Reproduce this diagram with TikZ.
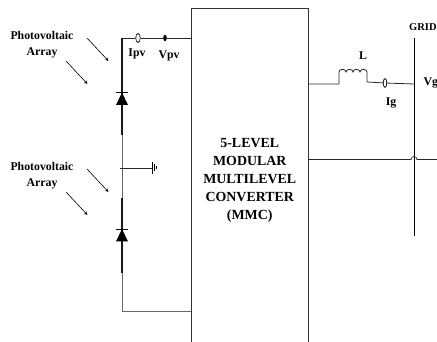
\documentclass[tikz,border=0pt]{standalone}
\usepackage{fontspec}
\setmainfont{Liberation Serif}
\usetikzlibrary{shapes.geometric,arrows.meta}
\tikzset{
	lbl/.style={font=\bfseries\fontsize{11.8}{16}\selectfont,inner sep=0pt,align=center},
	wire/.style={line width=0.8pt,black!85},
	bus/.style={line width=1pt,black!60},
	busdark/.style={line width=1.3pt,black!90},
	sunray/.style={line width=0.6pt,-{Stealth[length=3.5pt,width=3pt]}},
	sensor/.style={draw,ellipse,fill=white,inner sep=0pt,line width=0.7pt,minimum width=4.5pt,minimum height=9pt},
}
\begin{document}
\begin{tikzpicture}[x=1pt,y=-1pt]
		\clip (0,0) rectangle (437,342);
		\fill[white] (0,0) rectangle (437,342);

		\node[draw,line width=0.9pt,black!80,minimum width=116.5pt,minimum height=334pt,inner sep=0pt] (mmc) at (249.75,175) {};
		\node[lbl,font=\bfseries\fontsize{13.9}{18}\selectfont,text=black] (mmctext) at (249.75,180) {5-LEVEL\\MODULAR\\MULTILEVEL\\CONVERTER\\(MMC)};

		\coordinate (bustop) at (122,38);
		\coordinate (busbot) at (122,311);
		\coordinate (busmid) at (122,168);
		\coordinate (mmctop) at (mmc.west |- bustop);
		\coordinate (mmcbot) at (mmc.west |- busbot);

		\draw[bus] (bustop) -- (busbot) -- (mmcbot);
		\draw[busdark] (122,38) -- (122,135);
		\draw[busdark] (122,198) -- (122,273);

		\node[sensor] (ipv) at (138,38) {};
		\node[draw,ellipse,fill=black,inner sep=0pt,minimum width=3pt,minimum height=6pt] (vpv) at (165,38) {};
		\draw[wire] (bustop) -- (ipv) -- (vpv) -- (mmctop);
		\node[lbl] (ipvtext) at (137,54) {Ipv};
		\node[lbl] (vpvtext) at (169,56) {Vpv};

		\foreach \y/\n in {92.5/upper,229/lower}
		{
			\coordinate (\n) at (122,\y);
			\fill (\n) -- +(-6,12.5) -- +(6,12.5) -- cycle;
			\draw[line width=0.8pt] ([xshift=-6pt]\n) -- ([xshift=6pt]\n);
		}

		\coordinate (gnd) at (152,168);
		\draw[wire] ([xshift=-2pt]busmid) -- (gnd);
		\draw[line width=0.7pt] (152,162) -- (152,174);
		\draw[line width=0.7pt] (154.5,164.5) -- (154.5,171.5);
		\draw[line width=0.7pt] (156,166.5) -- (156,169.5);

		\foreach \y/\n in {37/pvone,168/pvtwo}
		{
			\node[lbl] (\n) at (42,\y+8) {Photovoltaic\\Array};
			\draw[sunray] (87,\y+1) -- (108.5,\y+24);
			\draw[sunray] (66,\y+24) -- (87.5,\y+47);
		}

		\coordinate (gridtop) at (414,38);
		\coordinate (gridbot) at (414,236);
		\draw[line width=0.7pt] (gridtop) -- (gridbot);
		\node[lbl,font=\bfseries\fontsize{10.5}{14}\selectfont,anchor=east] (gridtext) at (436.8,27) {GRID};
		\node[lbl,anchor=west] (vgtext) at (423.5,83) {Vg};

		\coordinate (lstart) at (339,84);
		\coordinate (lend) at (367,82);
		\node[sensor,minimum width=3.5pt] (ig) at (385,83) {};
		\coordinate (gridtap) at (414,84);
		\draw[wire] (mmc.east |- lstart) -- (lstart) -- (339,72)
			.. controls +(0,-3.5) and +(0,-3.5) .. ++(7,0)
			.. controls +(0,-3.5) and +(0,-3.5) .. ++(7,0)
			.. controls +(0,-3.5) and +(0,-3.5) .. ++(7,0)
			.. controls +(0,-3.5) and +(0,-3.5) .. ++(7,0)
			-- (lend) -- (ig);
		\draw[wire] (ig) -- (gridtap);
		\node[lbl] (ltext) at (363,56) {L};
		\node[lbl] (igtext) at (391,103) {Ig};

		\coordinate (acout) at (437,159.5);
		\draw[wire,line width=0.7pt] (mmc.east |- acout) -- (411,159.5)
			.. controls +(0.5,-4) and +(-0.5,-4) .. (417,159.5) -- (acout);
\end{tikzpicture}
\end{document}
